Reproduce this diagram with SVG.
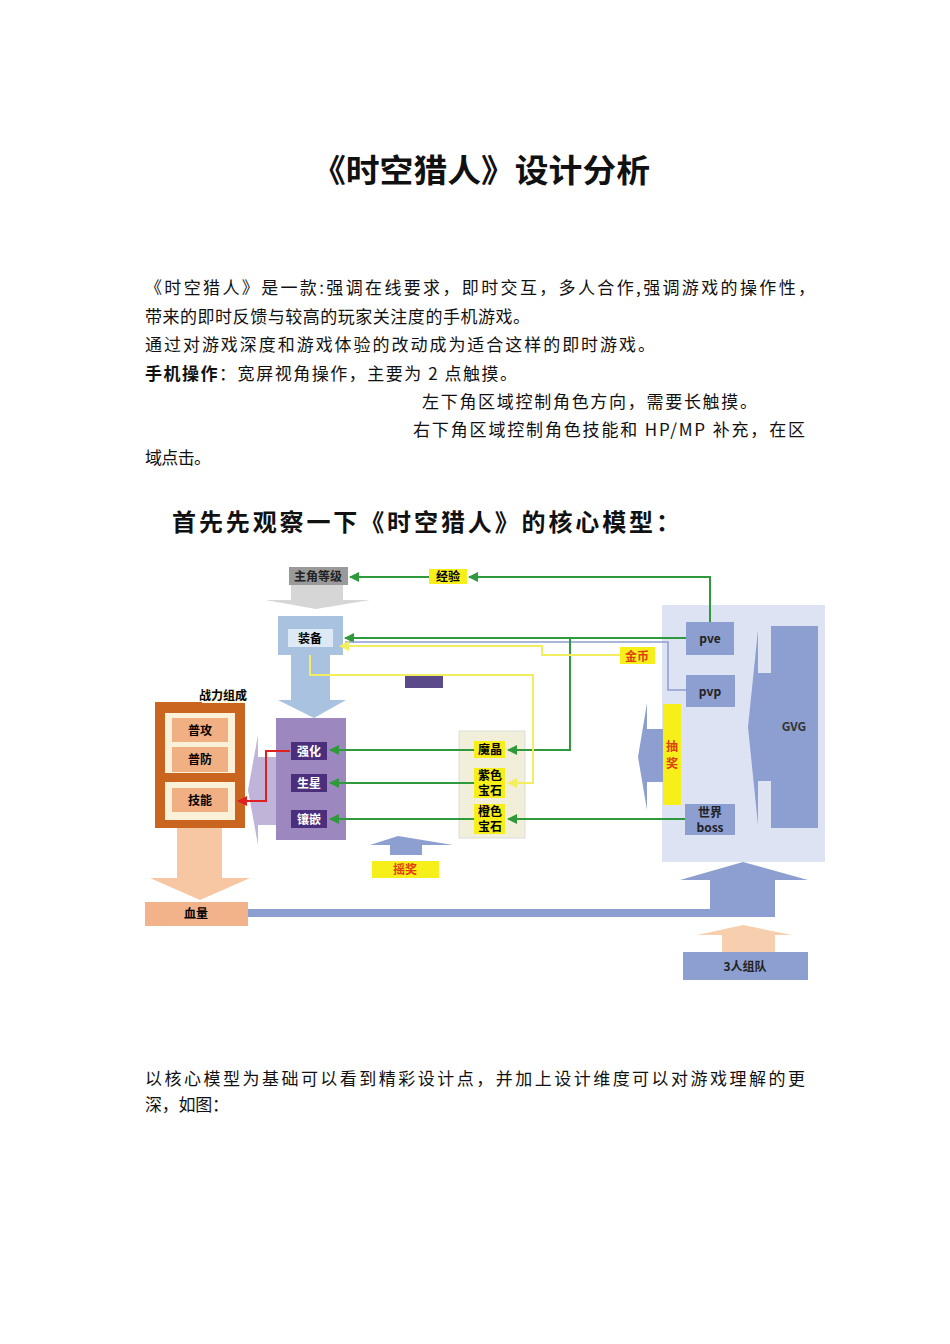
<svg xmlns="http://www.w3.org/2000/svg" width="950" height="1344" viewBox="0 0 950 1344">
<defs>
<style>
.t{font-family:"Noto Sans CJK SC","Noto Sans",sans-serif;fill:#111}
.b{font-size:17px}
.lb{font-family:"Noto Sans CJK SC","Liberation Sans",sans-serif;font-size:12px;font-weight:bold;text-anchor:middle}
.g{stroke:#2e9a3c;stroke-width:2;fill:none}
.y{stroke:#f2ee60;stroke-width:2;fill:none}
.yl{fill:#f6ef1a}
</style>
<marker id="ag" viewBox="0 0 10 10" refX="9" refY="5" markerWidth="5" markerHeight="5" orient="auto"><path d="M0,0L10,5L0,10z" fill="#2e9a3c"/></marker>
<marker id="ay" viewBox="0 0 10 10" refX="9" refY="5" markerWidth="5" markerHeight="5" orient="auto"><path d="M0,0L10,5L0,10z" fill="#f2ee60"/></marker>
<marker id="ar" viewBox="0 0 10 10" refX="9" refY="5" markerWidth="5" markerHeight="5" orient="auto"><path d="M0,0L10,5L0,10z" fill="#e02020"/></marker>
</defs>
<rect width="950" height="1344" fill="#fff"/>
<text class="t" x="312" y="182" font-size="32" font-weight="bold" textLength="338" lengthAdjust="spacingAndGlyphs">《时空猎人》设计分析</text>
<text class="t b" x="145" y="294" textLength="670">《时空猎人》是一款:强调在线要求，即时交互，多人合作,强调游戏的操作性，</text>
<text class="t b" x="145" y="323" textLength="385">带来的即时反馈与较高的玩家关注度的手机游戏。</text>
<text class="t b" x="145" y="351" textLength="510">通过对游戏深度和游戏体验的改动成为适合这样的即时游戏。</text>
<text class="t b" x="145" y="380" textLength="372"><tspan font-weight="bold">手机操作</tspan>：宽屏视角操作，主要为 2 点触摸。</text>
<text class="t b" x="422" y="408" textLength="335">左下角区域控制角色方向，需要长触摸。</text>
<text class="t b" x="413" y="436" textLength="392">右下角区域控制角色技能和 HP/MP 补充，在区</text>
<text class="t b" x="145" y="464" textLength="66">域点击。</text>
<text class="t" x="172" y="531" font-size="24" font-weight="bold" textLength="508">首先先观察一下《时空猎人》的核心模型：</text>
<text class="t b" x="145" y="1085" textLength="660">以核心模型为基础可以看到精彩设计点，并加上设计维度可以对游戏理解的更</text>
<text class="t b" x="145" y="1111" textLength="84">深，如图：</text>

<g id="panel">
<rect x="662" y="605" width="163" height="257" fill="#dde3f3"/>
<path d="M748,727 L758,630 V825 Z" fill="#8d9ed0"/>
<rect x="757" y="673" width="14" height="108" fill="#8d9ed0"/>
</g>
<g id="gvg"><rect x="771" y="626" width="47" height="202" fill="#8d9ed0"/><text class="lb" x="794" y="731" fill="#333">GVG</text></g>
<g id="pve"><rect x="686" y="622" width="48" height="33" fill="#8d9ed0"/><text class="lb" x="710" y="643" font-weight="normal" fill="#222">pve</text></g>
<g id="pvp"><rect x="686" y="675" width="49" height="32" fill="#8d9ed0"/><text class="lb" x="710" y="696" font-weight="normal" fill="#222">pvp</text></g>
<g id="boss"><rect x="685" y="804" width="50" height="31" fill="#8d9ed0"/><text class="lb" x="710" y="817" font-weight="normal" fill="#222">世界</text><text class="lb" x="710" y="832" font-weight="normal" fill="#222">boss</text></g>
<g id="choujiang"><path d="M638,757 L647,703 V729 H663 V782 H647 V810 Z" fill="#8d9ed0"/><rect x="663" y="704" width="18" height="101" class="yl"/><text class="lb" x="672" y="751" fill="#e04010" font-weight="normal">抽</text><text class="lb" x="672" y="768" fill="#e04010" font-weight="normal">奖</text></g>

<g id="zhujue"><rect x="289" y="567" width="59" height="18" fill="#9a9a9a"/><text class="lb" x="318" y="581" fill="#222">主角等级</text><path d="M291,585 H343 V600 H370 L316,609 L265,600 H291 Z" fill="#d6d6d6"/></g>
<g id="jingyan"><rect x="429" y="569" width="38" height="15" class="yl"/><text class="lb" x="448" y="581">经验</text></g>
<g id="zhuangbei"><rect x="278" y="616" width="65" height="39" fill="#a8c2e0"/><rect x="288" y="629" width="45" height="18" fill="#dde9f4"/><text class="lb" x="310" y="643">装备</text>
<path d="M291,655 H330 V700 H346 L314,718 L278,700 H291 Z" fill="#a8c2e0"/></g>
<g id="jinbi"><rect x="620" y="647" width="35" height="17" class="yl"/><text class="lb" x="637" y="661" fill="#e04010">金币</text></g>
<g id="hidden"><rect x="405" y="676" width="38" height="12" fill="#5b4a8a"/></g>
<g id="purple"><rect x="276" y="718" width="70" height="122" fill="#9c88bf"/>
<path d="M276,757 H258 V735 L248,790 L258,845 V825 H276 Z" fill="#c0b4d8"/>
<rect x="291" y="742" width="36" height="18" fill="#4c2f7c"/><text class="lb" x="309" y="756" fill="#fff" font-weight="normal">强化</text>
<rect x="291" y="774" width="36" height="18" fill="#4c2f7c"/><text class="lb" x="309" y="788" fill="#fff" font-weight="normal">生星</text>
<rect x="291" y="810" width="36" height="18" fill="#4c2f7c"/><text class="lb" x="309" y="824" fill="#fff" font-weight="normal">镶嵌</text></g>
<g id="zhanli"><rect x="155" y="702" width="90" height="126" fill="#c9651e"/>
<rect x="202" y="690" width="43" height="13" fill="#fbf7e0"/><text class="lb" x="223" y="700" font-size="9" font-weight="normal">战力组成</text>
<rect x="165" y="713" width="70" height="60" fill="#fbf0d8"/><rect x="165" y="782" width="70" height="38" fill="#fbf0d8"/>
<rect x="172" y="718" width="56" height="24" fill="#f0b083"/><text class="lb" x="200" y="735">普攻</text>
<rect x="172" y="747" width="56" height="25" fill="#f0b083"/><text class="lb" x="200" y="764">普防</text>
<rect x="172" y="788" width="56" height="24" fill="#f0b083"/><text class="lb" x="200" y="805">技能</text>
<path d="M177,828 H222 V878 H250 L200,900 L150,878 H177 Z" fill="#f7c6a2"/></g>
<g id="xueliang"><rect x="145" y="902" width="103" height="24" fill="#f2b28a"/><text class="lb" x="196" y="918" font-weight="normal">血量</text></g>
<g id="gem"><rect x="459" y="731" width="66" height="107" fill="#f1eed9" stroke="#ddd"/>
<rect x="474" y="741" width="31" height="17" class="yl"/><text class="lb" x="490" y="754">魔晶</text>
<rect x="474" y="768" width="31" height="30" class="yl"/><text class="lb" x="490" y="780">紫色</text><text class="lb" x="490" y="795">宝石</text>
<rect x="474" y="804" width="31" height="30" class="yl"/><text class="lb" x="490" y="816">橙色</text><text class="lb" x="490" y="831">宝石</text></g>
<g id="yaojiang"><path d="M390,855 V845 H370 L398,836 L453,845 H422 V855 Z" fill="#8d9ed0"/><rect x="372" y="861" width="67" height="17" class="yl"/><text class="lb" x="405" y="874" fill="#e04010" font-weight="normal">摇奖</text></g>
<g id="zudui"><path d="M722,952 V935 H697 L743,925 L792,935 H775 V952 Z" fill="#f7cfae"/><rect x="683" y="952" width="125" height="28" fill="#8d9ed0"/><text class="lb" x="745" y="971" fill="#222">3人组队</text>
<path d="M248,909 H710 V880 H680 L743,862 L808,880 H775 V917 H248 Z" fill="#8d9ed0"/></g>

<g id="connectors">
<path class="g" d="M710,622 V577 H469" marker-end="url(#ag)"/>
<path class="g" d="M429,577 H350" marker-end="url(#ag)"/>
<path class="g" d="M686,638 H345" marker-end="url(#ag)"/>
<path d="M686,690 H668 V642 H345" stroke="#8d9ed0" stroke-width="1.5" fill="none"/>
<path class="g" d="M570,638 V750 H508" marker-end="url(#ag)"/>
<path class="y" stroke-width="1.5" d="M620,655 H542 V646 H340" marker-end="url(#ay)"/>
<path class="y" d="M310,655 V675 H533 V783 H508" marker-end="url(#ay)"/>
<path class="g" d="M685,819 H508" marker-end="url(#ag)"/>
<path class="g" d="M474,750 H330" marker-end="url(#ag)"/>
<path class="g" d="M474,783 H330" marker-end="url(#ag)"/>
<path class="g" d="M474,819 H330" marker-end="url(#ag)"/>
<path d="M290,751 H266 V801 H238" stroke="#e02020" stroke-width="2" fill="none" marker-end="url(#ar)"/>
</g>
</svg>
